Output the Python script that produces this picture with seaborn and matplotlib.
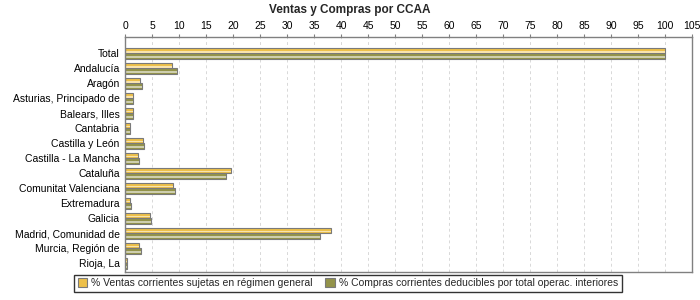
import numpy as np
import pandas as pd
import matplotlib
matplotlib.use('Agg')
import matplotlib.pyplot as plt
import seaborn as sns

regiones = ['Total', 'Andalucía', 'Aragón', 'Asturias, Principado de', 'Balears, Illes',
            'Cantabria', 'Castilla y León', 'Castilla - La Mancha', 'Cataluña',
            'Comunitat Valenciana', 'Extremadura', 'Galicia', 'Madrid, Comunidad de',
            'Murcia, Región de', 'Rioja, La']
ventas = [100, 8.7, 2.8, 1.4, 1.4, 0.9, 3.2, 2.4, 19.6, 8.8, 0.9, 4.6, 38.0, 2.5, 0.35]
compras = [100, 9.5, 3.0, 1.4, 1.5, 0.9, 3.5, 2.5, 18.7, 9.2, 1.1, 4.8, 36.0, 2.9, 0.35]
serie_v = '% Ventas corrientes sujetas en régimen general'
serie_c = '% Compras corrientes deducibles por total operac. interiores'
ticks_x = list(range(0, 106, 5))

df = pd.DataFrame({'CCAA': regiones * 2,
                   'valor': ventas + compras,
                   'serie': [serie_v] * len(regiones) + [serie_c] * len(regiones)})

sns.set_style('white')
plt.rcParams['font.family'] = ['Liberation Sans', 'DejaVu Sans']

fig = plt.figure(figsize=(7, 3), dpi=100)
ax = fig.add_axes([0.179, 0.093, 0.81, 0.784])

sns.barplot(data=df, y='CCAA', x='valor', hue='serie', orient='h', ax=ax,
            palette=['#EDC04A', '#93934A'], width=0.72,
            edgecolor='#7A7A7A', linewidth=0.8, saturation=1)

# lighter stripe on each bar to hint at the original gradient
for p in ax.patches:
    if p.get_width() > 0:
        x0, y0 = p.get_x(), p.get_y()
        h = p.get_height()
        fc = p.get_facecolor()
        light = tuple(min(1, c + (1 - c) * 0.55) for c in fc[:3])
        ax.add_patch(plt.Rectangle((x0, y0 + h * 0.55), p.get_width(), h * 0.3,
                                   facecolor=light, edgecolor='none', zorder=p.get_zorder() + 0.01))

ax.set_xlim(0, 105)
ax.set_ylim(len(regiones) - 0.4, -1.1)
ax.set_xticks(ticks_x)
ax.xaxis.tick_top()
ax.tick_params(axis='x', labelsize=7.5, length=2, pad=2, colors='#808080', labelcolor='black')
ax.tick_params(axis='y', labelsize=7.5, length=2, pad=2, colors='#808080', labelcolor='black')
ax.set_xlabel('')
ax.set_ylabel('')
ax.grid(axis='x', linestyle=(0, (3, 3)), color='#D8D8D8', linewidth=0.7)
ax.set_axisbelow(True)
for s in ax.spines.values():
    s.set_color('#808080')
    s.set_linewidth(1)

ax.legend_.remove()
handles, labels = ax.get_legend_handles_labels()
leg = fig.legend(handles, labels, loc='lower center', bbox_to_anchor=(0.497, 0.01),
                 ncol=2, fontsize=7.5, frameon=True, fancybox=False,
                 handlelength=0.9, handleheight=0.9, handletextpad=0.4,
                 columnspacing=1.2, borderpad=0.35)
leg.get_frame().set_edgecolor('black')
leg.get_frame().set_linewidth(1)

fig.text(0.5, 0.965, 'Ventas y Compras por CCAA', ha='center', va='center',
         fontsize=8.5, fontweight='bold')

fig.savefig('out.png', dpi=100)
